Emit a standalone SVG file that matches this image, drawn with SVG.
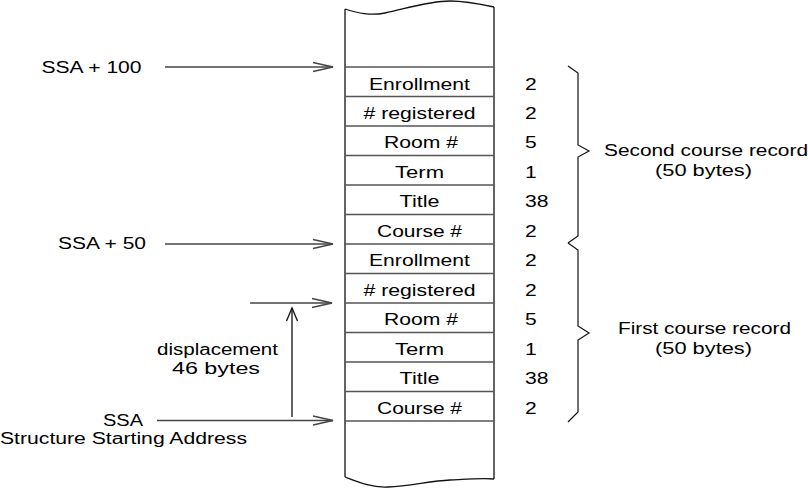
<svg xmlns="http://www.w3.org/2000/svg" width="808" height="488" viewBox="0 0 808 488">
<style>
text{font-family:"Liberation Sans",Arial,sans-serif;font-size:16px;fill:#000}
.row{stroke:#555;stroke-width:1.3;fill:none}
.edge{stroke:#111;stroke-width:1.3;fill:none}
.arr{stroke:#444;stroke-width:1.3;fill:none}
.brace{stroke:#111;stroke-width:1.2;fill:none}
</style>
<defs>
<marker id="hd" markerUnits="userSpaceOnUse" markerWidth="24" markerHeight="14" refX="0" refY="0" viewBox="-22 -7 24 14" orient="auto" overflow="visible">
<path d="M-20,-4.5 L0,0 L-20,4.5" fill="none" stroke="#444" stroke-width="1.3"/>
</marker>
<marker id="vd" markerUnits="userSpaceOnUse" markerWidth="18" markerHeight="16" refX="0" refY="0" viewBox="-16 -8 18 16" orient="auto" overflow="visible">
<path d="M-13,-5.5 L0,0 L-13,5.5" fill="none" stroke="#111" stroke-width="1.3"/>
</marker>
</defs>

<g id="memory-column">
<path class="edge" d="M345,9 C358,13 370,16 385,13 C408,8 430,1 450,1 C466,1 480,4 494,7"/>
<path class="edge" d="M345,477 C358,482 372,488 388,487 C410,486 430,481 450,480 C470,479 484,478 494,479"/>
<line class="edge" x1="345" y1="9" x2="345" y2="477"/>
<line class="edge" x1="494" y1="7" x2="494" y2="479"/>
<g id="row-lines">
<line class="row" x1="345" y1="67" x2="494" y2="67"/>
<line class="row" x1="345" y1="96.5" x2="494" y2="96.5"/>
<line class="row" x1="345" y1="126" x2="494" y2="126"/>
<line class="row" x1="345" y1="155.5" x2="494" y2="155.5"/>
<line class="row" x1="345" y1="185" x2="494" y2="185"/>
<line class="row" x1="345" y1="214.5" x2="494" y2="214.5"/>
<line class="row" x1="345" y1="244" x2="494" y2="244"/>
<line class="row" x1="345" y1="273.5" x2="494" y2="273.5"/>
<line class="row" x1="345" y1="303" x2="494" y2="303"/>
<line class="row" x1="345" y1="332.5" x2="494" y2="332.5"/>
<line class="row" x1="345" y1="362" x2="494" y2="362"/>
<line class="row" x1="345" y1="391.5" x2="494" y2="391.5"/>
<line class="row" x1="345" y1="421" x2="494" y2="421"/>
</g>
</g>

<g id="field-labels">
<text x="369" y="89.5" textLength="101" lengthAdjust="spacingAndGlyphs">Enrollment</text>
<text x="363.5" y="118.5" textLength="112" lengthAdjust="spacingAndGlyphs"># registered</text>
<text x="384" y="148" textLength="74" lengthAdjust="spacingAndGlyphs">Room #</text>
<text x="395" y="177.5" textLength="49" lengthAdjust="spacingAndGlyphs">Term</text>
<text x="399.5" y="207" textLength="40" lengthAdjust="spacingAndGlyphs">Title</text>
<text x="377" y="236.5" textLength="85" lengthAdjust="spacingAndGlyphs">Course #</text>
<text x="369" y="266" textLength="101" lengthAdjust="spacingAndGlyphs">Enrollment</text>
<text x="363.5" y="295.5" textLength="112" lengthAdjust="spacingAndGlyphs"># registered</text>
<text x="384" y="325" textLength="74" lengthAdjust="spacingAndGlyphs">Room #</text>
<text x="395" y="354.5" textLength="49" lengthAdjust="spacingAndGlyphs">Term</text>
<text x="399.5" y="384" textLength="40" lengthAdjust="spacingAndGlyphs">Title</text>
<text x="377" y="413.5" textLength="85" lengthAdjust="spacingAndGlyphs">Course #</text>
</g>

<g id="field-sizes">
<text x="525" y="89.5" textLength="11.7" lengthAdjust="spacingAndGlyphs">2</text>
<text x="525" y="118.5" textLength="11.7" lengthAdjust="spacingAndGlyphs">2</text>
<text x="525" y="148" textLength="11.7" lengthAdjust="spacingAndGlyphs">5</text>
<text x="525" y="177.5" textLength="11.7" lengthAdjust="spacingAndGlyphs">1</text>
<text x="525" y="207" textLength="23.5" lengthAdjust="spacingAndGlyphs">38</text>
<text x="525" y="236.5" textLength="11.7" lengthAdjust="spacingAndGlyphs">2</text>
<text x="525" y="266" textLength="11.7" lengthAdjust="spacingAndGlyphs">2</text>
<text x="525" y="295.5" textLength="11.7" lengthAdjust="spacingAndGlyphs">2</text>
<text x="525" y="325" textLength="11.7" lengthAdjust="spacingAndGlyphs">5</text>
<text x="525" y="354.5" textLength="11.7" lengthAdjust="spacingAndGlyphs">1</text>
<text x="525" y="384" textLength="23.5" lengthAdjust="spacingAndGlyphs">38</text>
<text x="525" y="413.5" textLength="11.7" lengthAdjust="spacingAndGlyphs">2</text>
</g>

<g id="second-record">
<path class="brace" d="M568,66 L578,73 L578,145 L589,151 L578,157 L578,236 L568,243"/>
<text x="604" y="155.7" textLength="204" lengthAdjust="spacingAndGlyphs">Second course record</text>
<text x="655" y="176" textLength="97" lengthAdjust="spacingAndGlyphs">(50 bytes)</text>
</g>

<g id="first-record">
<path class="brace" d="M568,243 L578,250 L578,326 L589,333 L578,340 L578,412 L568,422"/>
<text x="618" y="333.7" textLength="173" lengthAdjust="spacingAndGlyphs">First course record</text>
<text x="655" y="353.7" textLength="97" lengthAdjust="spacingAndGlyphs">(50 bytes)</text>
</g>

<g id="address-labels">
<text x="41.5" y="72.5" textLength="100" lengthAdjust="spacingAndGlyphs">SSA + 100</text>
<text x="58" y="248.5" textLength="88" lengthAdjust="spacingAndGlyphs">SSA + 50</text>
<text x="157" y="355" textLength="121" lengthAdjust="spacingAndGlyphs">displacement</text>
<text x="172" y="374" textLength="88" lengthAdjust="spacingAndGlyphs">46 bytes</text>
<text x="103" y="425.7" textLength="40" lengthAdjust="spacingAndGlyphs">SSA</text>
<text x="0" y="443.5" textLength="247" lengthAdjust="spacingAndGlyphs">Structure Starting Address</text>
</g>

<g id="connectors">
<line class="arr" x1="165" y1="67" x2="333" y2="67" marker-end="url(#hd)"/>
<line class="arr" x1="165" y1="244" x2="333" y2="244" marker-end="url(#hd)"/>
<line class="arr" x1="250" y1="303" x2="332" y2="303" marker-end="url(#hd)"/>
<line class="arr" x1="157" y1="420.5" x2="333" y2="420.5" marker-end="url(#hd)"/>
<line x1="292" y1="417" x2="292" y2="308" stroke="#111" stroke-width="1.3" marker-end="url(#vd)"/>
</g>
</svg>
